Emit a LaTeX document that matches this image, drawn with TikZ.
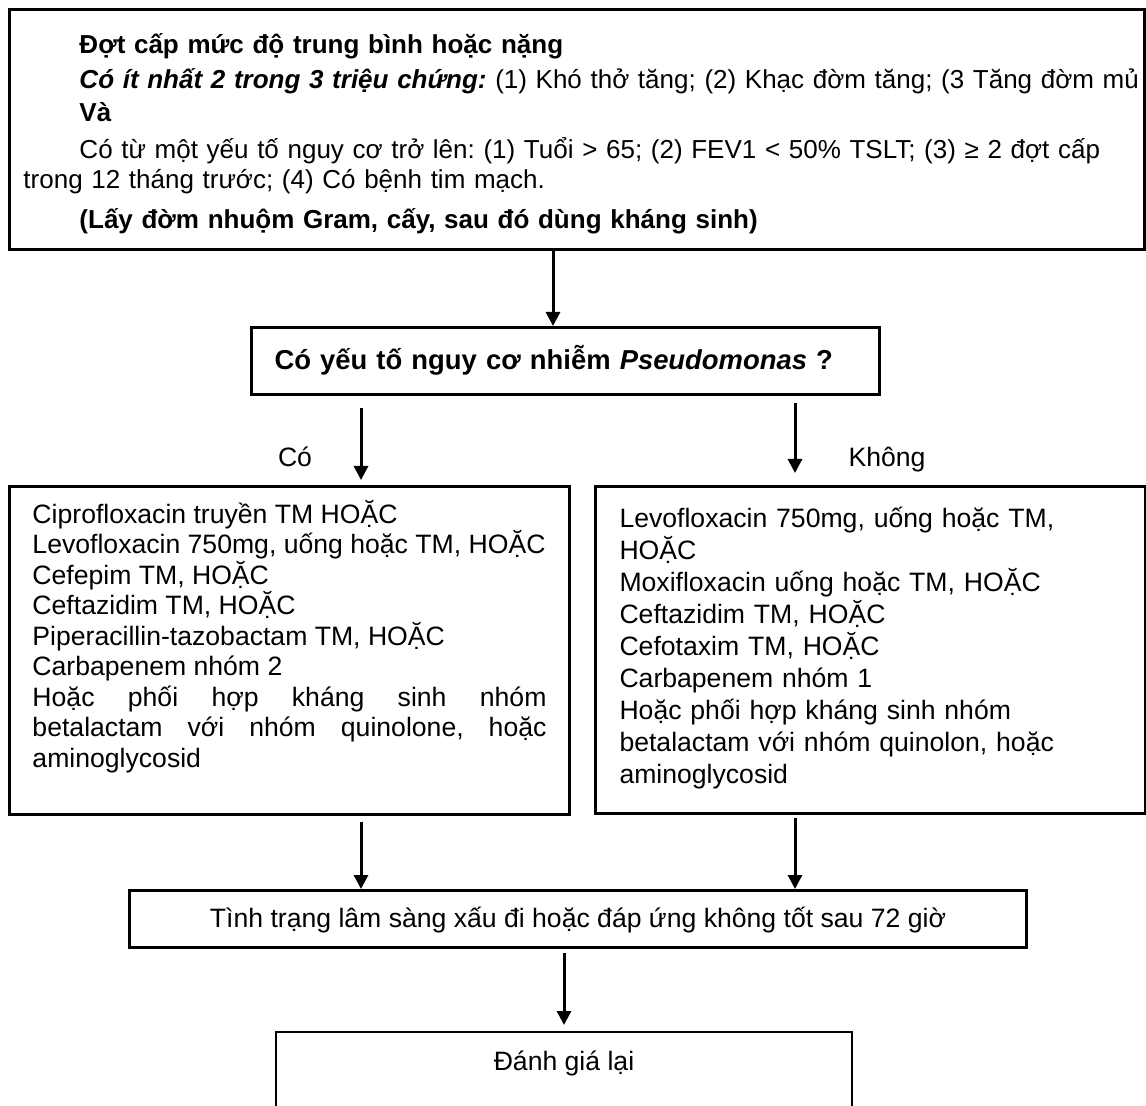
\documentclass[tikz,border=0pt]{standalone}
\usepackage{fontspec}
\setmainfont{Liberation Sans}
\usetikzlibrary{arrows.meta, positioning}
\frenchspacing

\begin{document}
\begin{tikzpicture}[x=0.5pt, y=-0.5pt, >={Triangle[length=7pt, width=7pt]},
    font=\fontsize{13.3pt}{15.25pt}\selectfont,
    box/.style={draw, line width=1.5pt, inner ysep=0pt, anchor=north west},
    flow/.style={->, line width=1.5pt}]

    \clip (0,0) rectangle (1146,1106);

    % Columns of the connectors
    \coordinate (c0) at (553,0);
    \coordinate (cl) at (361,0);
    \coordinate (cr) at (795,0);
    \coordinate (cb) at (564,0);

    % Criteria box
    \node[box, text width=553.5pt, inner xsep=7pt, align=left,
          font=\fontsize{13pt}{15pt}\selectfont,
          text height=22pt, text depth=98pt] (top) at (8,8) {%
      \hspace*{28pt}\textbf{Đợt cấp mức độ trung bình hoặc nặng}\\[2.5pt]
      \mbox{\hspace*{28pt}\textbf{\textit{Có ít nhất 2 trong 3 triệu chứng:}} (1) Khó thở tăng; (2) Khạc đờm tăng; (3 Tăng đờm mủ}\\[1.5pt]
      \hspace*{28pt}\textbf{Và}\\[3.5pt]
      \hspace*{28pt}Có từ một yếu tố nguy cơ trở lên: (1) Tuổi > 65; (2) FEV1 < 50\% TSLT; (3) ≥ 2 đợt cấp\\
      trong 12 tháng trước; (4) Có bệnh tim mạch.\\[5pt]
      \hspace*{28pt}\textbf{(Lấy đờm nhuộm Gram, cấy, sau đó dùng kháng sinh)}};

    % Question
    \node[box, text width=291pt, inner xsep=11.5pt, align=left,
          font=\fontsize{13.7pt}{15.25pt}\selectfont,
          text height=21pt, text depth=12.5pt] (q) at (250,326)
          {\textbf{Có yếu tố nguy cơ nhiễm \textit{Pseudomonas} ?}};

    % Yes branch
    \node[box, text width=257pt, inner xsep=11.5pt, align=justify,
          text height=18.5pt, text depth=145.5pt] (lbox) at (8,485) {%
      Ciprofloxacin truyền TM HOẶC\\
      Levofloxacin 750mg, uống hoặc TM, HOẶC\\
      Cefepim TM, HOẶC\\
      Ceftazidim TM, HOẶC\\
      Piperacillin-tazobactam TM, HOẶC\\
      Carbapenem nhóm 2\\
      Hoặc phối hợp kháng sinh nhóm\linebreak
      betalactam với nhóm quinolone, hoặc\linebreak
      aminoglycosid};

    % No branch
    \node[box, text width=251pt, inner xsep=12pt, align=left,
          font=\fontsize{13.3pt}{16pt}\selectfont,
          text height=20.5pt, text depth=143pt] (rbox) at (594,485) {%
      Levofloxacin 750mg, uống hoặc TM,\\
      HOẶC\\
      Moxifloxacin uống hoặc TM, HOẶC\\
      Ceftazidim TM, HOẶC\\
      Cefotaxim TM, HOẶC\\
      Carbapenem nhóm 1\\
      Hoặc phối hợp kháng sinh nhóm\\
      betalactam với nhóm quinolon, hoặc\\
      aminoglycosid};

    % Branch labels
    \node[anchor=base] (yes) at (295,467) {Có};
    \node[anchor=base] (no) at (887,467) {Không};

    % After 72 hours
    \node[box, minimum width=448.5pt, text height=18.5pt, text depth=10pt] (eval) at (128,889)
          {Tình trạng lâm sàng xấu đi hoặc đáp ứng không tốt sau 72 giờ};

    % Reassess (runs past the lower edge)
    \node[box, line width=1pt, minimum width=288pt, text height=19pt, text depth=40pt] (again) at (275,1031)
          {Đánh giá lại};

    % Connectors
    \draw[flow] (top.south -| c0) -- (q.north -| c0);
    \draw[flow, shorten <=6pt, shorten >=2.5pt] (q.south -| cl) -- (lbox.north -| cl);
    \draw[flow, shorten <=3.5pt, shorten >=6pt] (q.south -| cr) -- (rbox.north -| cr);
    \draw[flow, shorten <=3pt] (lbox.south -| cl) -- (eval.north -| cl);
    \draw[flow, shorten <=1.5pt] (rbox.south -| cr) -- (eval.north -| cr);
    \draw[flow, shorten <=2pt, shorten >=3pt] (eval.south -| cb) -- (again.north -| cb);

\end{tikzpicture}
\end{document}
